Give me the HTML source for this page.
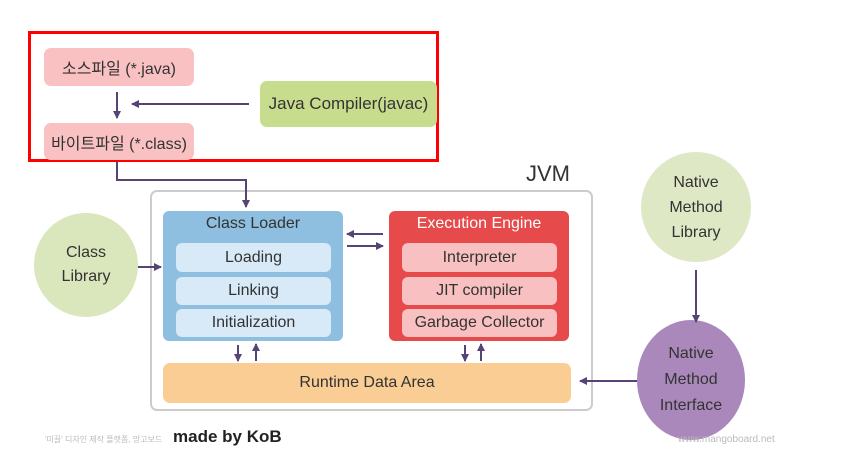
<!DOCTYPE html>
<html><head><meta charset="utf-8"><style>
body{margin:0;width:845px;height:466px;background:#fff;position:relative;overflow:hidden;font-family:"Liberation Sans","Noto Sans CJK KR",sans-serif;color:#333}
.a{position:absolute;box-sizing:border-box;display:flex;align-items:center;justify-content:center;text-align:center}
svg{position:absolute;left:0;top:0}
</style></head><body>
<div class="a" style="left:28px;top:31px;width:411px;height:131px;border:3px solid #f00"></div>
<div class="a" style="left:44px;top:48px;width:150px;height:38px;background:#f9c1c1;border-radius:7px;font-size:16px">소스파일 (*.java)</div>
<div class="a" style="left:44px;top:123px;width:150px;height:37px;background:#f9c1c1;border-radius:7px;font-size:16px">바이트파일 (*.class)</div>
<div class="a" style="left:260px;top:81px;width:177px;height:46px;background:#c8dc8e;border-radius:7px;font-size:17px">Java Compiler(javac)</div>
<div class="a" style="left:150px;top:190px;width:443px;height:221px;border:2px solid #ccc;border-radius:7px"></div>
<div class="a" style="left:520px;top:160px;width:56px;height:28px;font-size:22px">JVM</div>
<div class="a" style="left:163px;top:211px;width:180px;height:130px;background:#8fbfe0;border-radius:6px;align-items:flex-start;padding-top:4px;font-size:16px">Class Loader</div>
<div class="a" style="left:176px;top:243px;width:155px;height:29px;background:#d8e9f7;border-radius:6px;font-size:16px">Loading</div>
<div class="a" style="left:176px;top:277px;width:155px;height:28px;background:#d8e9f7;border-radius:6px;font-size:16px">Linking</div>
<div class="a" style="left:176px;top:309px;width:155px;height:28px;background:#d8e9f7;border-radius:6px;font-size:16px">Initialization</div>
<div class="a" style="left:389px;top:211px;width:180px;height:130px;background:#e64a4a;border-radius:6px;align-items:flex-start;padding-top:4px;font-size:16px;color:#fff">Execution Engine</div>
<div class="a" style="left:402px;top:243px;width:155px;height:29px;background:#f8c0c0;border-radius:6px;font-size:16px">Interpreter</div>
<div class="a" style="left:402px;top:277px;width:155px;height:28px;background:#f8c0c0;border-radius:6px;font-size:16px">JIT compiler</div>
<div class="a" style="left:402px;top:309px;width:155px;height:28px;background:#f8c0c0;border-radius:6px;font-size:16px">Garbage Collector</div>
<div class="a" style="left:163px;top:363px;width:408px;height:40px;background:#f9cd94;border-radius:7px;font-size:16px">Runtime Data Area</div>
<div class="a" style="left:34px;top:213px;width:104px;height:104px;background:#dae6bb;border-radius:50%;font-size:16px;line-height:24px">Class<br>Library</div>
<div class="a" style="left:641px;top:152px;width:110px;height:110px;background:#dfe8c5;border-radius:50%;font-size:16px;line-height:25px">Native<br>Method<br>Library</div>
<div class="a" style="left:637px;top:320px;width:108px;height:120px;background:#ab88bb;border-radius:50%;font-size:16px;line-height:26px">Native<br>Method<br>Interface</div>
<div style="position:absolute;left:45px;top:434px;font-size:8px;color:#bbb">'미끌' 디자인 제작 플랫폼, 망고보드</div>
<div style="position:absolute;left:173px;top:427px;font-size:17px;font-weight:bold;color:#222">made by KoB</div>
<div style="position:absolute;left:678px;top:434px;font-size:10px;color:#bbb">www.mangoboard.net</div>
<svg width="845" height="466"><defs><marker id="m" markerWidth="8" markerHeight="8" refX="7" refY="4" orient="auto" markerUnits="userSpaceOnUse"><path d="M0,0L8,4L0,8z" fill="#574477"/></marker></defs>
<g stroke="#574477" stroke-width="2" fill="none" marker-end="url(#m)">
<path d="M117 92V118"/><path d="M249 104H132"/><path d="M117 162V180H246V207"/>
<path d="M383 234H347"/><path d="M347 246H383"/>
<path d="M138 267H161"/><path d="M696 270V322"/><path d="M637 381H580"/>
<path d="M238 345V361"/><path d="M256 361V344"/><path d="M465 345V361"/><path d="M481 361V344"/>
</g></svg>
</body></html>
